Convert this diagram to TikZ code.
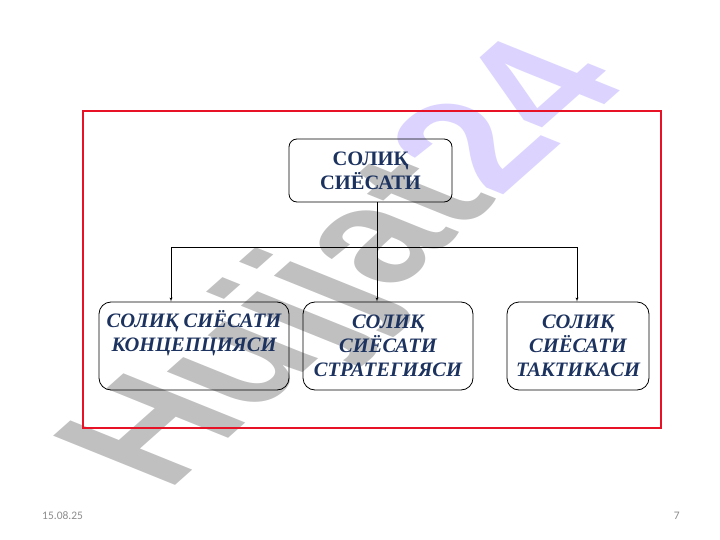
\documentclass[tikz,border=0pt]{standalone}
\usepackage{fontspec}
\setmainfont{Liberation Serif}
\newfontfamily\marksans{Liberation Sans}
\newfontfamily\footsans{Carlito}
\usepackage{tikz}
\usetikzlibrary{
  positioning,
  arrows
}
\definecolor{taxblue}{RGB}{28,50,95}
\definecolor{framered}{RGB}{232,18,38}
\definecolor{markgrey}{RGB}{192,192,192}
\definecolor{marklilac}{RGB}{220,212,255}
\definecolor{footgrey}{RGB}{140,140,140}

\begin{document}
\begin{tikzpicture}[x=1pt,y=-1pt,>=latex',
    topbox/.style={draw,line width=0.8pt,rounded corners=8pt,align=center,text=taxblue,
      font=\fontsize{20.5}{24}\selectfont\bfseries},
    subbox/.style={draw,line width=0.8pt,rounded corners=12pt,minimum height=88pt},
    subtext/.style={align=center,text=taxblue,inner sep=0pt,
      font=\fontsize{20.5}{24}\selectfont\bfseries\itshape},
    foot/.style={text=footgrey,inner sep=0pt,font=\footsans\fontsize{11.5}{13}\selectfont}]
        \useasboundingbox (0,0) rectangle (720,540);

        % watermark
        \begin{scope}[shift={(354,268)},xscale=1.67]
            \node[rotate=56,transform shape,inner sep=0pt,
              font=\marksans\bfseries\fontsize{128}{128}\selectfont] (mark) at (0,0)
              {\textcolor{markgrey}{Hujjat}\textcolor{marklilac}{24}};
        \end{scope}

        \draw[framered,line width=2pt] (83,111) rectangle (661,428);

        \node[topbox,minimum width=163pt,minimum height=63pt] (policy) at (370.5,170.5) {СОЛИҚ\\СИЁСАТИ};

        \node[subbox,minimum width=190pt] (concept) at (194,346) {};
        \node[subtext,below=9pt of concept.north] (concepttxt) {СОЛИҚ СИЁСАТИ\\КОНЦЕПЦИЯСИ};
        \node[subbox,minimum width=170pt] (strategy) at (388,346) {};
        \node[subtext] (strategytxt) at (strategy) {СОЛИҚ\\СИЁСАТИ\\СТРАТЕГИЯСИ};
        \node[subbox,minimum width=142pt] (tactic) at (578,346) {};
        \node[subtext] (tactictxt) at (tactic) {СОЛИҚ\\СИЁСАТИ\\ТАКТИКАСИ};

        \coordinate (hub) at (377,247);
        \coordinate (busL) at (171,247);
        \coordinate (busR) at (577,247);
        \draw (busL) -- (busR);
        \draw[->] (hub |- policy.south) -- (hub |- strategy.north);
        \draw[->] (busL) -- (busL |- concept.north);
        \draw[->] (busR) -- (busR |- tactic.north);

        \node[foot,anchor=west] (date) at (42,516) {15.08.25};
        \node[foot,anchor=east] (page) at (680,516) {7};
    \end{tikzpicture}
\end{document}
